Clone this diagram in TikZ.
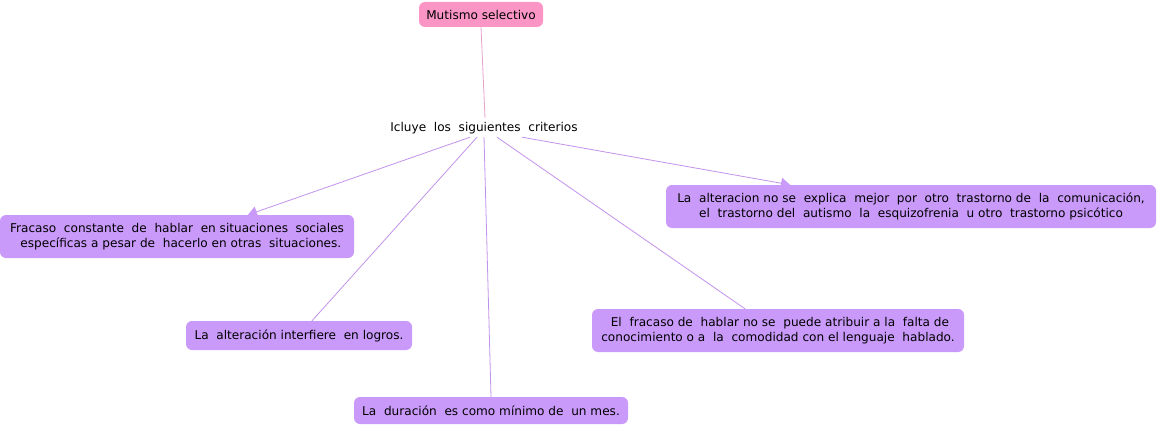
\documentclass[tikz,border=0pt]{standalone}
\usepackage{fontspec}
\setmainfont{DejaVu Sans}
\usetikzlibrary{arrows.meta,calc}
\definecolor{boxc}{HTML}{C99AFA}
\definecolor{pinkc}{HTML}{FB95C6}
\definecolor{linec}{HTML}{C392EC}
\definecolor{plinec}{HTML}{E6A2CF}
\tikzset{
  concept/.style={draw=none,fill=boxc,rounded corners=6pt,align=center,inner sep=0pt,font=\fontsize{12.1}{15}\selectfont},
  link/.style={draw=linec,line width=0.8pt},
  tipped/.style={link,-{Triangle[length=9pt,width=11pt,fill=boxc,color=boxc]}}
}
\begin{document}
\begin{tikzpicture}[x=1pt,y=-1pt]
\useasboundingbox[fill=white] (0,0) rectangle (1158,425);
\node[concept,fill=pinkc,minimum width=124pt,minimum height=25pt] (mut) at (481,14.5) {Mutismo selectivo};
\node[inner sep=0pt,font=\fontsize{12.1}{15}\selectfont,minimum width=190pt,minimum height=16pt] (lbl) at (484,128) {Icluye\ \ los\ \ siguientes\ \ criterios};
\node[concept,minimum width=354pt,minimum height=43pt] (fr) at (177,236.5) {Fracaso\ \ constante\ \ de\ \ hablar\ \ en situaciones\ \ sociales\\ \ \ específicas a pesar de\ \ hacerlo en otras\ \ situaciones.};
\node[concept,minimum width=490pt,minimum height=43pt] (alt) at (911,206.5) {La\ \ alteracion no se\ \ explica\ \ mejor\ \ por\ \ otro\ \ trastorno de\ \ la\ \ comunicación,\\el\ \ trastorno del\ \ autismo\ \ la\ \ esquizofrenia\ \ u otro\ \ trastorno psicótico};
\node[concept,minimum width=226pt,minimum height=29pt] (int) at (299,335.5) {La\ \ alteración interfiere\ \ en logros.};
\node[concept,minimum width=372pt,minimum height=43pt] (fra) at (778,330.5) {\ El\ \ fracaso de\ \ hablar no se\ \ puede atribuir a la\ \ falta de\\conocimiento o a\ \ la\ \ comodidad con el lenguaje\ \ hablado.};
\node[concept,minimum width=274pt,minimum height=27pt] (dur) at (491,410.5) {La\ \ duración\ \ es como mínimo de\ \ un mes.};
\draw[draw=plinec,line width=0.8pt] (mut.south) -- ($(lbl.north)+(1,-2)$);
\draw[tipped] ($(lbl.south)+(-14,1)$) -- ($(fr.north)+(71,0)$);
\draw[link] ($(lbl.south)+(-7,1)$) -- ($(int.north)+(13,0)$);
\draw[link] ($(lbl.south)+(0,1)$) -- (dur.north);
\draw[link] ($(lbl.south)+(13,1)$) -- ($(fra.north)+(-33,0)$);
\draw[tipped] ($(lbl.south)+(38,1)$) -- ($(alt.north)+(-121,0)$);
\end{tikzpicture}
\end{document}
